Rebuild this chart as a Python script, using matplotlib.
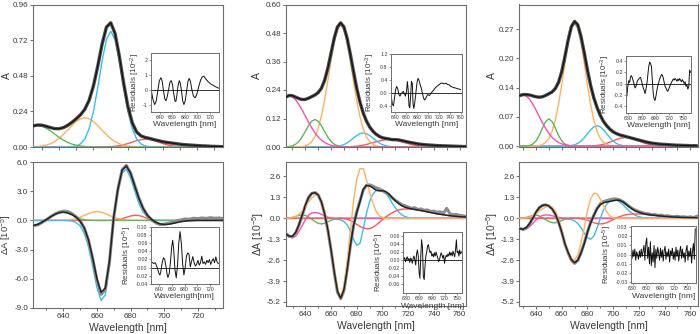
import numpy as np
import matplotlib
matplotlib.use("Agg")
import matplotlib.pyplot as plt
from matplotlib.ticker import MultipleLocator

plt.rcParams['font.family'] = ['Liberation Sans', 'DejaVu Sans']
plt.rcParams['axes.unicode_minus'] = False
plt.rcParams['mathtext.fontset'] = 'custom'
plt.rcParams['mathtext.rm'] = 'Liberation Sans'
plt.rcParams['mathtext.default'] = 'regular'

TXT = '#3a3a3a'
SPINE = '#6e6e6e'
C_GREEN = '#5cb85c'
C_ORANGE = '#ffb062'
C_BLUE = '#3cbcf0'
C_RED = '#ff5a5a'
C_PINK = '#ff4fb2'
C_BASE = '#4a5cff'

# ---------------- Column 1 ----------------
wl1_abs = np.arange(625, 735.01, 2.5)
abs1_fit = [0.142, 0.148, 0.147, 0.140, 0.131, 0.124, 0.123, 0.130, 0.145, 0.166, 0.190, 0.217, 0.254,
            0.315, 0.412, 0.545, 0.693, 0.807, 0.837, 0.765, 0.611, 0.428, 0.270, 0.162, 0.101, 0.075,
            0.064, 0.058, 0.050, 0.043, 0.036, 0.031, 0.027, 0.023, 0.019, 0.016, 0.014, 0.012, 0.010,
            0.008, 0.007, 0.005, 0.004, 0.003, 0.002]
abs1_green = [0.1405, 0.145, 0.1405, 0.128, 0.1095, 0.088, 0.066, 0.047, 0.031, 0.020, 0.0115, 0.0064,
              0.0033, 0.0016, 0.0007] + [0.0] * 30
abs1_orange = [0.0013, 0.003, 0.006, 0.012, 0.0215, 0.036, 0.057, 0.083, 0.113, 0.144, 0.172, 0.190, 0.197,
               0.190, 0.172, 0.144, 0.113, 0.083, 0.057, 0.036, 0.0215, 0.012, 0.006, 0.003, 0.0013,
               0.0006] + [0.0] * 19
abs1_blue = [0.0] * 8 + [0.0005, 0.002, 0.007, 0.021, 0.054, 0.123, 0.239, 0.401, 0.580, 0.724, 0.780, 0.724,
                         0.580, 0.401, 0.239, 0.123, 0.054, 0.021, 0.007, 0.002, 0.0005] + [0.0] * 16
abs1_red = [0.0] * 17 + [0.001, 0.0023, 0.0048, 0.009, 0.0153, 0.0238, 0.0335, 0.0428, 0.0495, 0.052, 0.0495,
                         0.0428, 0.0335, 0.0238, 0.0153, 0.009, 0.0048, 0.0023, 0.001] + [0.0] * 9

res1a_x = [626, 628.5, 631.5, 634, 636.5, 639, 641.5, 643.5, 645.5, 647.5, 649.5, 651.5, 654, 656, 658, 660,
           662, 664, 665.5, 667, 669, 671, 672.5, 674.5, 676.5, 678.5, 680.5, 683, 685, 687, 689, 691.5, 694,
           696.5, 699, 702, 705.5, 708, 710.5, 713, 717, 721, 725, 729, 734]
res1a_y = [0.0, -0.6, -0.95, -0.7, 0.0, 0.65, 0.85, 0.6, 0.0, -0.55, -0.7, -0.45, 0.1, 0.55, 0.65, 0.4, -0.2,
           -0.7, -0.75, -0.4, 0.3, 0.65, 0.5, 0.0, -0.7, -0.95, -0.7, 0.0, 0.6, 0.8, 0.6, 0.0, -0.4, -0.5, -0.3,
           0.2, 0.7, 0.9, 0.95, 0.8, 0.6, 0.45, 0.35, 0.25, 0.15]

wl1_dA = np.arange(622.5, 735.01, 2.5)
dA1_data = [-0.55, -0.45, -0.2, 0.08, 0.38, 0.66, 0.85, 0.95, 0.92, 0.72, 0.40, -0.05, -0.78, -2.05, -3.95,
            -6.1, -7.6, -7.1, -4.2, 0.3, 3.2, 5.2, 5.65, 4.9, 3.6, 2.3, 1.25, 0.52, 0.05, -0.25, -0.42, -0.38,
            -0.30, -0.20, -0.05, 0.05, 0.15, 0.12, 0.22, 0.18, 0.25, 0.20, 0.28, 0.22, 0.25, 0.20]
dA1_fit = [-0.5, -0.4, -0.17, 0.09, 0.37, 0.61, 0.785, 0.845, 0.78, 0.61, 0.343, -0.066, -0.763, -2.003, -3.87,
           -5.98, -7.386, -6.953, -4.158, 0.344, 3.233, 5.15, 5.6, 4.855, 3.545, 2.24, 1.23, 0.54, 0.10, -0.18,
           -0.36, -0.42, -0.40, -0.32, -0.22, -0.13, -0.07, -0.03, -0.01] + [0.0] * 7
dA1_green = [-0.5, -0.4, -0.17, 0.09, 0.37, 0.61, 0.78, 0.83, 0.76, 0.58, 0.36, 0.17, 0.07, 0.02,
             0.006] + [0.0] * 31
dA1_orange = [0.0] * 6 + [0.005, 0.015, 0.040, 0.0905, 0.183, 0.324, 0.507, 0.697, 0.844, 0.9, 0.844, 0.697,
                          0.507, 0.324, 0.183, 0.0905, 0.040, 0.015, 0.005] + [0.0] * 21
dA1_blue = [0.0] * 8 + [-0.02, -0.06, -0.20, -0.56, -1.34, -2.72, -4.72, -6.88, -8.23, -7.65, -4.67, 0.0, 2.98,
                        4.89, 5.25, 4.39, 3.02, 1.74, 0.85, 0.36, 0.13, 0.04] + [0.0] * 16
dA1_red = [0.0] * 18 + [0.005, 0.02, 0.07, 0.17, 0.31, 0.45, 0.52, 0.50, 0.38, 0.18, -0.03, -0.22, -0.36,
                        -0.42, -0.40, -0.32, -0.22, -0.13, -0.07, -0.03, -0.01] + [0.0] * 7

res1b_x = [628, 630, 632, 634, 636, 638, 640, 641.5, 643, 645, 647, 649, 651, 652.5, 654, 656, 658, 660, 661.5,
           663, 665, 667, 669, 671, 673, 675, 677, 679, 681, 683, 685, 687, 689, 691, 693, 695, 697, 699, 701,
           703, 705, 707, 709, 711, 713, 715, 717, 719, 721, 723, 725, 727, 729, 731, 733]
res1b_y = [0.014, 0.012, 0.010, 0.012, 0.006, -0.004, -0.015, -0.018, -0.008, 0.012, 0.024, 0.020, 0.002,
           -0.015, -0.024, -0.015, 0.015, 0.052, 0.067, 0.045, -0.005, -0.025, 0.005, 0.060, 0.088, 0.060,
           0.010, -0.018, 0.000, 0.028, 0.036, 0.033, 0.002, 0.015, 0.027, 0.012, 0.004, 0.008, 0.018, 0.006,
           0.012, 0.028, 0.010, 0.014, 0.008, 0.018, 0.012, 0.020, 0.008, 0.016, 0.022, 0.012, 0.026, 0.014,
           0.010]

# ---------------- Column 2 ----------------
wl2 = np.arange(625, 765.01, 2.5)
abs2_fit = [0.211, 0.217, 0.216, 0.210, 0.204, 0.200, 0.2005, 0.2055, 0.212, 0.219, 0.229, 0.247, 0.280,
            0.331, 0.394, 0.458, 0.505, 0.523, 0.506, 0.459, 0.392, 0.318, 0.248, 0.190, 0.144, 0.110, 0.085,
            0.067, 0.054, 0.045, 0.039, 0.036, 0.034, 0.031, 0.031, 0.030, 0.027, 0.024, 0.021, 0.018, 0.016,
            0.013, 0.0115, 0.010, 0.009, 0.008, 0.007, 0.006, 0.0055, 0.005, 0.0045, 0.004, 0.0035, 0.003,
            0.0025, 0.002, 0.002]
abs2_pink = [0.2107, 0.215, 0.2107, 0.1985, 0.1796, 0.1561, 0.1304, 0.1047, 0.0807, 0.0598, 0.0426, 0.0291,
             0.0191, 0.0121, 0.0073, 0.0043, 0.0024, 0.0013, 0.0007] + [0.0] * 38
abs2_green = [0.0007, 0.002, 0.0051, 0.0117, 0.0235, 0.0418, 0.0653, 0.0899, 0.1088, 0.116, 0.1088, 0.0899,
              0.0653, 0.0418, 0.0235, 0.0117, 0.0051, 0.002, 0.0007] + [0.0] * 38
abs2_orange = [0.0] * 4 + [0.0008, 0.002, 0.0048, 0.0109, 0.0226, 0.0435, 0.0776, 0.1282, 0.1959, 0.2773,
                           0.3632, 0.4405, 0.4946, 0.514, 0.4946, 0.4405, 0.3632, 0.2773, 0.1959, 0.1282,
                           0.0776, 0.0435, 0.0226, 0.0109, 0.0048, 0.002, 0.0008] + [0.0] * 26
abs2_blue = [0.0] * 15 + [0.0011, 0.0026, 0.0054, 0.0101, 0.0174, 0.0270, 0.0381, 0.0486, 0.0562, 0.059,
                          0.0562, 0.0486, 0.0381, 0.0270, 0.0174, 0.0101, 0.0054, 0.0026, 0.0011] + [0.0] * 23
abs2_red = [0.0] * 18 + [0.0004, 0.0008, 0.0014, 0.0022, 0.0035, 0.0053, 0.0077, 0.0107, 0.0142, 0.0180,
                         0.0219, 0.0255, 0.0284, 0.0303, 0.031, 0.0303, 0.0284, 0.0255, 0.0219, 0.0180, 0.0142,
                         0.0107, 0.0077, 0.0053, 0.0035, 0.0022, 0.0014, 0.0008, 0.0004] + [0.0] * 10

res2a_x = [633, 635, 637, 639, 641, 643, 645, 647, 649, 651, 653, 655, 657, 659, 661, 662.5, 664, 665.5, 667,
           668.5, 670, 671.5, 673, 674.5, 676, 677.5, 679, 680.5, 682, 684, 686, 688, 690, 692, 694, 696, 698,
           700, 703, 706, 709, 712, 715, 718, 721, 724, 727, 730, 733, 736, 739, 742, 745, 748, 751, 754, 757,
           760]
res2a_y = [-0.10, -0.35, -0.40, -0.15, 0.10, 0.20, 0.12, -0.05, -0.10, -0.02, 0.00, 0.05, -0.02, -0.10, 0.05,
           0.35, 0.10, -0.40, -0.45, -0.10, 0.35, 0.30, -0.35, -0.48, -0.30, -0.10, 0.15, 0.35, 0.45, 0.38,
           0.25, 0.15, 0.00, -0.15, -0.22, -0.18, -0.10, -0.05, -0.08, 0.00, 0.05, 0.12, 0.18, 0.22, 0.26, 0.30,
           0.30, 0.28, 0.30, 0.26, 0.25, 0.20, 0.18, 0.16, 0.15, 0.13, 0.12, 0.10]

dA2_data = [-0.95, -1.12, -1.15, -0.9, -0.42, 0.18, 0.8, 1.3, 1.55, 1.6, 1.45, 1.0, 0.25, -0.75, -2.0, -3.4,
            -4.6, -5.0, -4.5, -3.2, -1.7, -0.45, 0.4, 1.1, 1.75, 2.05, 2.08, 2.0, 1.9, 1.82, 1.72, 1.6, 1.45,
            1.28, 1.12, 0.98, 0.85, 0.78, 0.7, 0.62, 0.66, 0.55, 0.58, 0.5, 0.52, 0.42, 0.45, 0.38, 0.40, 0.32,
            0.62, 0.28, 0.22, 0.24, 0.18, 0.16, 0.12]
dA2_fit = [-1.0, -1.11, -1.11, -0.86, -0.39, 0.21, 0.82, 1.30, 1.55, 1.59, 1.44, 1.02, 0.29, -0.70, -1.96,
           -3.34, -4.54, -4.95, -4.42, -3.16, -1.68, -0.44, 0.39, 1.03, 1.80, 2.05, 2.01, 1.89, 1.75, 1.70, 1.72,
           1.66, 1.52, 1.29, 1.09, 0.92, 0.78, 0.69, 0.63, 0.59, 0.55, 0.52, 0.48, 0.44, 0.40, 0.36, 0.32, 0.28,
           0.25, 0.22, 0.19, 0.16, 0.14, 0.12, 0.10, 0.09, 0.08]
dA2_orange = [0.0, 0.02, 0.05, 0.12, 0.25, 0.45, 0.72, 1.02, 1.28, 1.43, 1.42, 1.12, 0.45, -0.55, -1.85, -3.25,
              -4.45, -4.85, -4.2, -2.7, -0.75, 1.1, 2.45, 3.08, 3.1, 2.4, 1.6, 0.95, 0.45, 0.15, 0.05,
              -0.02] + [0.0] * 25
dA2_blue = [0.0] * 14 + [-0.01, -0.03, -0.06, -0.1, -0.2, -0.4, -0.8, -1.3, -1.68, -1.55, -0.7, 0.3, 1.05, 1.5,
                         1.72, 1.8, 1.75, 1.6, 1.3, 0.95, 0.65, 0.4, 0.22, 0.11, 0.05, 0.02] + [0.0] * 17
dA2_red = [0.0] * 18 + [-0.02, -0.06, -0.13, -0.24, -0.38, -0.5, -0.6, -0.65, -0.64, -0.56, -0.42, -0.25, -0.08,
                        0.08, 0.22, 0.34, 0.44, 0.52, 0.56, 0.58, 0.58, 0.57, 0.55, 0.52, 0.48, 0.44, 0.40, 0.36,
                        0.32, 0.28, 0.25, 0.22, 0.19, 0.16, 0.14, 0.12, 0.10, 0.09, 0.08]
dA2_pink = [-1.0, -1.15, -1.22, -1.1, -0.82, -0.45, -0.08, 0.2, 0.33, 0.36, 0.33, 0.25, 0.15, 0.07, 0.02, -0.01,
            -0.01] + [0.0] * 40
dA2_green = [0.0, 0.02, 0.06, 0.12, 0.18, 0.21, 0.18, 0.08, -0.06, -0.2, -0.31, -0.35, -0.31, -0.22, -0.12,
             -0.05, -0.02] + [0.0] * 40

res2b_x = np.arange(624, 760.1, 2)
res2b_y = [0.002, 0.006, -0.004, 0.003, 0.008, 0.000, 0.004, -0.006, 0.005, 0.002, -0.008, 0.004, 0.010, 0.000,
           -0.012, 0.015, 0.025, 0.010, -0.030, -0.045, 0.010, 0.050, 0.030, -0.040, -0.048, -0.015, 0.010,
           0.020, 0.035, 0.038, 0.025, 0.018, 0.022, 0.010, 0.015, 0.008, 0.018, 0.010, 0.020, 0.012, 0.006,
           -0.004, 0.000, 0.010, 0.018, 0.012, 0.005, 0.012, -0.008, 0.005, 0.012, 0.008, 0.015, 0.010, 0.020,
           0.012, 0.018, 0.010, 0.022, 0.015, 0.008, 0.025, 0.050, 0.018, 0.022, 0.010, 0.025, 0.015, 0.020]

# ---------------- Column 3 ----------------
wl3 = np.arange(627.5, 765.01, 2.5)
abs3_fit = [0.117, 0.119, 0.119, 0.118, 0.116, 0.114, 0.113, 0.114, 0.117, 0.121, 0.125, 0.133, 0.147, 0.172,
            0.207, 0.245, 0.276, 0.288, 0.280, 0.253, 0.216, 0.176, 0.140, 0.111, 0.089, 0.071, 0.057, 0.047,
            0.039, 0.033, 0.029, 0.026, 0.024, 0.022, 0.020, 0.018, 0.016, 0.014, 0.012, 0.010, 0.0085, 0.007,
            0.006, 0.005, 0.0045, 0.004, 0.0035, 0.003, 0.0025, 0.002, 0.002, 0.0015, 0.0015, 0.001, 0.001,
            0.001]
abs3_pink = [0.1155, 0.118, 0.1155, 0.1082, 0.0971, 0.0834, 0.0686, 0.054, 0.0407, 0.0294, 0.0203, 0.0135,
             0.0086, 0.0052, 0.003, 0.0017, 0.0009] + [0.0] * 39
abs3_green = [0.0] * 2 + [0.0004, 0.0015, 0.0048, 0.0121, 0.0249, 0.0417, 0.0568, 0.063, 0.0568, 0.0417,
                          0.0249, 0.0121, 0.0048, 0.0015, 0.0004] + [0.0] * 39
abs3_orange = [0.0] * 5 + [0.0006, 0.0015, 0.0037, 0.0085, 0.0178, 0.0341, 0.0599, 0.0963, 0.142, 0.1926,
                           0.2388, 0.272, 0.284, 0.272, 0.2388, 0.1926, 0.142, 0.0963, 0.0599, 0.0341, 0.0178,
                           0.0085, 0.0037, 0.0015, 0.0006] + [0.0] * 26
abs3_blue = [0.0] * 15 + [0.0005, 0.0013, 0.0031, 0.0064, 0.0117, 0.0193, 0.0285, 0.0376, 0.0445, 0.047,
                          0.0445, 0.0376, 0.0285, 0.0193, 0.0117, 0.0064, 0.0031, 0.0013, 0.0005] + [0.0] * 22
abs3_red = [0.0] * 22 + [0.0005, 0.0009, 0.0016, 0.0027, 0.0043, 0.0065, 0.0092, 0.0121, 0.0151, 0.0177,
                         0.0194, 0.020, 0.0194, 0.0177, 0.0151, 0.0121, 0.0092, 0.0065, 0.0043, 0.0027, 0.0016,
                         0.0009, 0.0005] + [0.0] * 11

res3a_x = np.arange(627, 767.1, 2)
res3a_y = [-0.22, -0.05, 0.05, 0.02, 0.12, 0.14, 0.10, 0.04, -0.02, -0.08, -0.05, 0.02, 0.06, 0.08, 0.10, 0.11,
           0.05, -0.02, -0.08, -0.12, -0.18, -0.10, 0.00, 0.15, 0.30, 0.38, 0.36, 0.30, 0.05, -0.18, -0.28,
           -0.30, -0.22, -0.12, -0.04, 0.02, 0.08, 0.12, 0.16, 0.15, 0.10, 0.02, -0.05, -0.08, -0.12, -0.14,
           -0.10, -0.06, -0.02, 0.02, 0.05, 0.08, 0.06, 0.09, 0.07, 0.04, 0.08, 0.05, 0.09, 0.06, 0.03, 0.07,
           0.04, 0.00, 0.03, -0.05, -0.02, -0.10, -0.06, 0.24, 0.20]

dA3_data = [-0.62, -0.7, -0.6, -0.35, 0.0, 0.36, 0.66, 0.8, 0.84, 0.77, 0.6, 0.27, -0.22, -0.86, -1.6, -2.15,
            -2.6, -2.8, -2.62, -2.15, -1.55, -0.85, -0.25, 0.2, 0.62, 0.9, 1.04, 1.1, 1.16, 1.2, 1.2, 1.15, 1.05,
            0.9, 0.74, 0.6, 0.5, 0.42, 0.36, 0.3, 0.28, 0.22, 0.24, 0.18, 0.2, 0.14, 0.16, 0.12, 0.1, 0.13, 0.08,
            0.1, 0.06, 0.09, 0.05, 0.12]
dA3_fit = [-0.66, -0.67, -0.57, -0.33, 0.01, 0.38, 0.67, 0.80, 0.83, 0.76, 0.59, 0.28, -0.21, -0.84, -1.58,
           -2.11, -2.56, -2.76, -2.60, -2.15, -1.58, -0.87, -0.28, 0.18, 0.59, 0.85, 0.97, 1.01, 1.05, 1.09, 1.13,
           1.12, 1.02, 0.87, 0.71, 0.57, 0.45, 0.37, 0.31, 0.26, 0.23, 0.2, 0.18, 0.16, 0.14, 0.12, 0.11, 0.09,
           0.08, 0.07, 0.06, 0.05, 0.05, 0.04, 0.04, 0.03]
dA3_orange = [0.0, 0.01, 0.03, 0.07, 0.15, 0.28, 0.45, 0.58, 0.70, 0.76, 0.70, 0.45, -0.05, -0.72, -1.5, -2.05,
              -2.48, -2.6, -2.28, -1.55, -0.6, 0.45, 1.22, 1.55, 1.52, 1.2, 0.78, 0.4, 0.15, 0.03,
              -0.01] + [0.0] * 25
dA3_blue = [0.0] * 13 + [-0.01, -0.02, -0.04, -0.08, -0.16, -0.32, -0.58, -0.92, -1.2, -1.3, -1.1, -0.6, 0.0,
                         0.52, 0.88, 1.08, 1.14, 1.12, 1.02, 0.85, 0.65, 0.46, 0.3, 0.18, 0.1, 0.05, 0.02,
                         0.01] + [0.0] * 15
dA3_red = [0.0] * 19 + [-0.02, -0.06, -0.12, -0.2, -0.27, -0.33, -0.35, -0.33, -0.27, -0.18, -0.08, 0.02, 0.1,
                        0.17, 0.22, 0.25, 0.27, 0.27, 0.27, 0.26, 0.24, 0.22, 0.2, 0.18, 0.16, 0.14, 0.12, 0.11,
                        0.09, 0.08, 0.07, 0.06, 0.05, 0.05, 0.04, 0.04, 0.03]
dA3_pink = [-0.66, -0.7, -0.66, -0.52, -0.32, -0.1, 0.07, 0.18, 0.21, 0.2, 0.16, 0.11, 0.06, 0.02] + [0.0] * 42
dA3_green = [0.0, 0.02, 0.06, 0.12, 0.18, 0.2, 0.15, 0.04, -0.08, -0.2, -0.27, -0.28, -0.22, -0.13, -0.06,
             -0.02] + [0.0] * 40

res3b_x = np.arange(627, 767.1, 2)
res3b_y = [0.002, -0.004, 0.005, -0.002, 0.006, -0.006, 0.003, 0.000, -0.005, 0.004, -0.003, 0.006, -0.002,
           0.004, 0.010, -0.006, 0.012, 0.018, -0.004, 0.008, -0.010, 0.014, -0.012, 0.002, -0.008, 0.010,
           -0.014, 0.006, -0.004, 0.008, 0.002, -0.006, 0.007, -0.003, 0.005, -0.007, 0.004, 0.009, -0.005,
           0.003, -0.002, 0.006, -0.008, 0.004, 0.000, 0.007, -0.005, 0.003, -0.006, 0.008, -0.002, 0.005,
           -0.007, 0.003, 0.009, -0.004, 0.006, -0.003, 0.002, -0.008, 0.005, 0.010, -0.006, 0.004, -0.002,
           0.007, -0.009, 0.004, 0.012, -0.005, 0.028]

# tick definitions
abs1_yticks = [0.0, 0.24, 0.48, 0.72, 0.96]
abs1_ylabels = ['0.00', '0.24', '0.48', '0.72', '0.96']
abs2_yticks = [0.0, 0.12, 0.24, 0.36, 0.48, 0.60]
abs2_ylabels = ['0.00', '0.12', '0.24', '0.36', '0.48', '0.60']
abs3_yticks = [0.0, 0.0675, 0.135, 0.2025, 0.27]
abs3_ylabels = ['0.00', '0.07', '0.14', '0.20', '0.27']
dA1_yticks = [-9.0, -6.0, -3.0, 0.0, 3.0, 6.0]
dA1_ylabels = ['-9.0', '-6.0', '-3.0', '0.0', '3.0', '6.0']
dA23_yticks = [-5.2, -3.9, -2.6, -1.3, 0.0, 1.3, 2.6]
dA23_ylabels = ['-5.2', '-3.9', '-2.6', '-1.3', '0.0', '1.3', '2.6']


def px_rect(x0, y0, x1, y1):
    W, H = 700.0, 334.0
    return [x0 / W, 1 - y1 / H, (x1 - x0) / W, (y1 - y0) / H]


def style_main(ax, xlim, ylim, xmaj, yticks, ylabels, show_x):
    ax.set_xlim(*xlim)
    ax.set_ylim(*ylim)
    ax.xaxis.set_major_locator(MultipleLocator(xmaj))
    ax.xaxis.set_minor_locator(MultipleLocator(10))
    ax.set_yticks(yticks)
    ax.set_yticklabels(ylabels)
    ax.tick_params(axis='both', which='both', direction='out', color=SPINE, width=0.7,
                   labelcolor=TXT, labelsize=5.8, pad=1.0)
    ax.tick_params(which='major', length=2.5)
    ax.tick_params(which='minor', length=1.5)
    if not show_x:
        ax.tick_params(axis='x', labelbottom=False)
    for s in ax.spines.values():
        s.set_color(SPINE)
        s.set_linewidth(0.8)


def style_inset(ax, x, y, xlim, ylim, xticks, yticks, ylabels, ylab, xlab):
    ax.axhline(0, color='#111111', lw=0.6, zorder=1)
    ax.plot(x, y, color='#111111', lw=0.7, zorder=2)
    ax.set_xlim(*xlim)
    ax.set_ylim(*ylim)
    ax.set_xticks(xticks)
    ax.set_yticks(yticks)
    ax.set_yticklabels(ylabels)
    ax.tick_params(axis='both', which='both', direction='out', color=SPINE, width=0.5, length=1.2,
                   labelcolor=TXT, labelsize=3.8, pad=1)
    ax.set_ylabel(ylab, fontsize=5.8, color=TXT, labelpad=1)
    ax.set_xlabel(xlab, fontsize=6, color=TXT, labelpad=1)
    for s in ax.spines.values():
        s.set_color(SPINE)
        s.set_linewidth(0.7)


fig = plt.figure(figsize=(7.0, 3.34), dpi=100)

DATA_TOP = dict(color='#4a4a4a', lw=2.4, solid_capstyle='round', zorder=6)
FIT_TOP = dict(color='#111111', lw=0.8, zorder=7)
DATA_BOT = dict(color='#8c8c8c', lw=2.2, zorder=6)
FIT_BOT = dict(color='#222222', lw=1.1, zorder=7)
CW = 1.0
LBL = 7.5

# ---- column 1 top
ax = fig.add_axes(px_rect(33, 4.5, 223, 147))
ax.axhline(0, color=C_BASE, lw=0.9, zorder=1)
ax.plot(wl1_abs, abs1_red, color=C_RED, lw=CW, zorder=2)
ax.plot(wl1_abs, abs1_orange, color=C_ORANGE, lw=CW, zorder=3)
ax.plot(wl1_abs, abs1_blue, color=C_BLUE, lw=CW, zorder=4)
ax.plot(wl1_abs, abs1_green, color=C_GREEN, lw=CW, zorder=5)
ax.plot(wl1_abs, abs1_fit, **DATA_TOP)
ax.plot(wl1_abs, abs1_fit, **FIT_TOP)
style_main(ax, (625, 735), (0, 0.96), 10, abs1_yticks, abs1_ylabels, False)
ax.set_ylabel('A', fontsize=LBL, color=TXT)
ax.yaxis.set_label_coords(-0.11, 0.5)
ins = fig.add_axes(px_rect(150.7, 53, 219, 112))
style_inset(ins, res1a_x, res1a_y, (625, 735), (-1.45, 2.5), [640, 660, 680, 700, 720],
            [-1, 0, 1, 2], ['-1', '0', '1', '2'], 'Residuals [10$^{-2}$]', 'Wavelength [nm]')

# ---- column 1 bottom
ax = fig.add_axes(px_rect(33, 162, 223, 308))
ax.plot(wl1_dA, dA1_red, color=C_RED, lw=CW, zorder=2)
ax.plot(wl1_dA, dA1_orange, color=C_ORANGE, lw=CW, zorder=3)
ax.plot(wl1_dA, dA1_blue, color=C_BLUE, lw=CW, zorder=4)
ax.plot(wl1_dA, dA1_green, color=C_GREEN, lw=CW, zorder=5)
ax.plot(wl1_dA, dA1_data, **DATA_BOT)
ax.plot(wl1_dA, dA1_fit, **FIT_BOT)
style_main(ax, (622, 735), (-9, 6), 20, dA1_yticks, dA1_ylabels, True)
ax.set_ylabel('ΔA [10$^{-5}$]', fontsize=6.8, color=TXT)
ax.yaxis.set_label_coords(-0.1, 0.5)
ax.set_xlabel('Wavelength [nm]', fontsize=LBL, color=TXT, labelpad=2)
ins = fig.add_axes(px_rect(150.7, 226.7, 219, 284))
style_inset(ins, res1b_x, res1b_y, (627, 734), (-0.04, 0.10), [640, 660, 680, 700, 720],
            [-0.04, -0.02, 0.0, 0.02, 0.04, 0.06, 0.08, 0.10],
            ['-0.04', '-0.02', '0.00', '0.02', '0.04', '0.06', '0.08', '0.10'],
            'Residuals [10$^{-5}$]', 'Wavelength[nm]')

# ---- column 2 top
ax = fig.add_axes(px_rect(286, 4.5, 466, 147))
ax.axhline(0, color=C_BASE, lw=0.9, zorder=1)
ax.plot(wl2, abs2_red, color=C_RED, lw=CW, zorder=2)
ax.plot(wl2, abs2_blue, color=C_BLUE, lw=CW, zorder=3)
ax.plot(wl2, abs2_orange, color=C_ORANGE, lw=CW, zorder=3)
ax.plot(wl2, abs2_green, color=C_GREEN, lw=CW, zorder=4)
ax.plot(wl2, abs2_pink, color=C_PINK, lw=CW, zorder=5)
ax.plot(wl2, abs2_fit, **DATA_TOP)
ax.plot(wl2, abs2_fit, **FIT_TOP)
style_main(ax, (625, 765), (0, 0.60), 10, abs2_yticks, abs2_ylabels, False)
ax.set_ylabel('A', fontsize=LBL, color=TXT)
ax.yaxis.set_label_coords(-0.135, 0.5)
ins = fig.add_axes(px_rect(390.7, 54, 461.7, 111.7))
style_inset(ins, res2a_x, res2a_y, (632, 762), (-0.58, 1.2), [640, 660, 680, 700, 720, 740, 760],
            [-0.4, 0.0, 0.4, 0.8, 1.2], ['-0.4', '0.0', '0.4', '0.8', '1.2'],
            'Residuals [10$^{-3}$]', 'Wavelength [nm]')

# ---- column 2 bottom
ax = fig.add_axes(px_rect(285.5, 162, 466, 306))
ax.axhline(0, color='#9a2a55', lw=0.9, zorder=1)
ax.plot(wl2, dA2_green, color=C_GREEN, lw=CW, zorder=2)
ax.plot(wl2, dA2_pink, color=C_PINK, lw=CW, zorder=3)
ax.plot(wl2, dA2_blue, color=C_BLUE, lw=CW, zorder=3)
ax.plot(wl2, dA2_red, color=C_RED, lw=CW, zorder=4)
ax.plot(wl2, dA2_data, **DATA_BOT)
ax.plot(wl2, dA2_orange, color=C_ORANGE, lw=CW, zorder=6.5)
ax.plot(wl2, dA2_fit, **FIT_BOT)
style_main(ax, (624.5, 765), (-5.45, 3.5), 20, dA23_yticks, dA23_ylabels, True)
ax.set_ylabel('ΔA [10$^{-5}$]', fontsize=LBL, color=TXT)
ax.yaxis.set_label_coords(-0.11, 0.5)
ax.set_xlabel('Wavelength [nm]', fontsize=LBL, color=TXT, labelpad=2)
ins = fig.add_axes(px_rect(403, 231.7, 462.3, 293.3))
style_inset(ins, res2b_x, res2b_y, (622, 762), (-0.082, 0.07), [630, 660, 690, 720, 750],
            [-0.06, -0.04, -0.02, 0.0, 0.02, 0.04, 0.06],
            ['-0.06', '-0.04', '-0.02', '0.00', '0.02', '0.04', '0.06'],
            'Residuals [10$^{-5}$]', 'Wavelength [nm]')

# ---- column 3 top
ax = fig.add_axes(px_rect(519.3, 4.5, 698, 147))
ax.axhline(0, color=C_BASE, lw=0.9, zorder=1)
ax.plot(wl3, abs3_red, color=C_RED, lw=CW, zorder=2)
ax.plot(wl3, abs3_blue, color=C_BLUE, lw=CW, zorder=3)
ax.plot(wl3, abs3_orange, color=C_ORANGE, lw=CW, zorder=3)
ax.plot(wl3, abs3_green, color=C_GREEN, lw=CW, zorder=4)
ax.plot(wl3, abs3_pink, color=C_PINK, lw=CW, zorder=5)
ax.plot(wl3, abs3_fit, **DATA_TOP)
ax.plot(wl3, abs3_fit, **FIT_TOP)
style_main(ax, (627, 766), (-0.002, 0.327), 10, abs3_yticks, abs3_ylabels, False)
ax.set_ylabel('A', fontsize=LBL, color=TXT)
ax.yaxis.set_label_coords(-0.126, 0.5)
ins = fig.add_axes(px_rect(626, 56, 691, 112.7))
style_inset(ins, res3a_x, res3a_y, (625, 768), (-0.52, 0.49), [630, 660, 690, 720, 750],
            [-0.4, -0.2, 0.0, 0.2, 0.4], ['-0.4', '-0.2', '0.0', '0.2', '0.4'],
            'Residuals [10$^{-3}$]', 'Wavelength [nm]')

# ---- column 3 bottom
ax = fig.add_axes(px_rect(519.3, 162, 698, 306))
ax.axhline(0, color='#9a2a55', lw=0.9, zorder=1)
ax.plot(wl3, dA3_green, color=C_GREEN, lw=CW, zorder=2)
ax.plot(wl3, dA3_pink, color=C_PINK, lw=CW, zorder=3)
ax.plot(wl3, dA3_blue, color=C_BLUE, lw=CW, zorder=3)
ax.plot(wl3, dA3_red, color=C_RED, lw=CW, zorder=4)
ax.plot(wl3, dA3_data, **DATA_BOT)
ax.plot(wl3, dA3_orange, color=C_ORANGE, lw=CW, zorder=6.5)
ax.plot(wl3, dA3_fit, **FIT_BOT)
style_main(ax, (627, 766), (-5.45, 3.5), 20, dA23_yticks, dA23_ylabels, True)
ax.set_ylabel('ΔA [10$^{-5}$]', fontsize=LBL, color=TXT)
ax.yaxis.set_label_coords(-0.11, 0.5)
ax.set_xlabel('Wavelength [nm]', fontsize=LBL, color=TXT, labelpad=2)
ins = fig.add_axes(px_rect(630.7, 226, 695.7, 283.3))
style_inset(ins, res3b_x, res3b_y, (626, 768), (-0.031, 0.031), [630, 660, 690, 720, 750],
            [-0.03, -0.02, -0.01, 0.0, 0.01, 0.02, 0.03],
            ['-0.03', '-0.02', '-0.01', '0.00', '0.01', '0.02', '0.03'],
            'Residuals [10$^{-5}$]', 'Wavelength [nm]')

fig.savefig('out.png', dpi=100)
